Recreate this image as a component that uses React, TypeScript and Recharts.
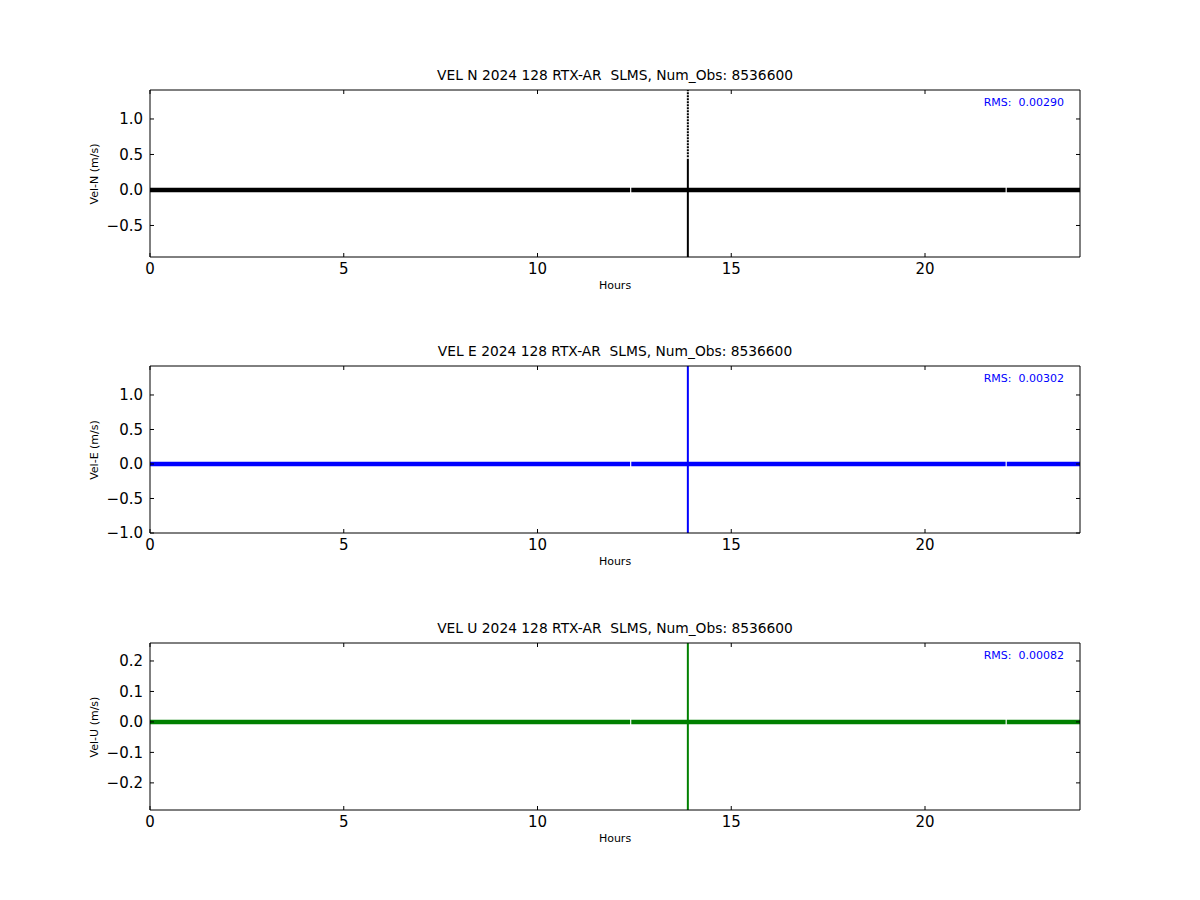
import React from 'react';
import { ComposedChart, Line, XAxis, YAxis } from 'recharts';

// ---- data ----
const hourTicks = [0, 5, 10, 15, 20];
const baseHours = [0, 12.39, 12.4, 12.42, 22.08, 22.09, 22.11, 24];
const velNBase = [0.0, 0.0, null, 0.0, 0.0, null, 0.0, 0.0];
const velEBase = [0.0, 0.0, null, 0.0, 0.0, null, 0.0, 0.0];
const velUBase = [0.0, 0.0, null, 0.0, 0.0, null, 0.0, 0.0];
const spikeHour = 13.88;
const velNSpikeSolid = [-0.95, 0.44];
const velNSpikeDotted = [0.46, 1.41];
const velESpike = [-1.0, 1.42];
const velUSpike = [-0.29, 0.26];
const velNTicks = [-0.5, 0.0, 0.5, 1.0];
const velETicks = [-1.0, -0.5, 0.0, 0.5, 1.0];
const velUTicks = [-0.2, -0.1, 0.0, 0.1, 0.2];
const velNDomain = [-0.944, 1.408];
const velEDomain = [-1.0, 1.42];
const velUDomain = [-0.289, 0.259];
const titles = [
  'VEL N 2024 128 RTX-AR  SLMS, Num_Obs: 8536600',
  'VEL E 2024 128 RTX-AR  SLMS, Num_Obs: 8536600',
  'VEL U 2024 128 RTX-AR  SLMS, Num_Obs: 8536600',
];
const yLabels = ['Vel-N (m/s)', 'Vel-E (m/s)', 'Vel-U (m/s)'];
const rmsLabels = ['RMS:  0.00290', 'RMS:  0.00302', 'RMS:  0.00082'];

const FONT = '"DejaVu Sans", sans-serif';
const PLOT_LEFT = 150;
const PLOT_RIGHT = 1080;
const PLOT_H = 167;
const M_TOP = 60;
const M_BOTTOM = 50;
const AX_W = 40;
const AX_H = 30;
const plotTops = [90, 366, 643];

const fmt = (v: number) => v.toFixed(1).replace('-', '\u2212');

const BottomTick = (p: any) => (
  <g>
    <line x1={p.x} x2={p.x} y1={p.y} y2={p.y - 4} stroke="#000" />
    <text x={p.x} y={p.y + 17} textAnchor="middle" fontSize={15} fontFamily={FONT} fill="#000">
      {p.payload.value}
    </text>
  </g>
);
const TopTick = (p: any) => <line x1={p.x} x2={p.x} y1={p.y} y2={p.y + 4} stroke="#000" />;
const LeftTick = (p: any) => (
  <g>
    <line x1={p.x} x2={p.x + 4} y1={p.y} y2={p.y} stroke="#000" />
    <text x={p.x - 7} y={p.y} dy="0.36em" textAnchor="end" fontSize={15} fontFamily={FONT} fill="#000">
      {fmt(p.payload.value)}
    </text>
  </g>
);
const RightTick = (p: any) => <line x1={p.x} x2={p.x - 4} y1={p.y} y2={p.y} stroke="#000" />;

const toRows = (hours: number[], vals: (number | null)[]) => hours.map((h, i) => ({ h, v: vals[i] }));
const spikeRows = (vals: number[]) => vals.map((v) => ({ h: spikeHour, v }));

type Panel = {
  color: string;
  base: (number | null)[];
  spikes: { vals: number[]; dash?: string }[];
  ticks: number[];
  domain: number[];
};

const panels: Panel[] = [
  { color: '#000000', base: velNBase, spikes: [{ vals: velNSpikeSolid }, { vals: velNSpikeDotted, dash: '2 1' }], ticks: velNTicks, domain: velNDomain },
  { color: '#0000ff', base: velEBase, spikes: [{ vals: velESpike }], ticks: velETicks, domain: velEDomain },
  { color: '#008000', base: velUBase, spikes: [{ vals: velUSpike }], ticks: velUTicks, domain: velUDomain },
];

const axisLine = { stroke: '#000', strokeWidth: 1 };

export default function App() {
  return (
    <div style={{ position: 'absolute', left: 0, top: 0, width: 1200, height: 900, background: '#fff', fontFamily: FONT }}>
      {panels.map((p, i) => {
        const top = plotTops[i] - M_TOP;
        const mid = plotTops[i] + PLOT_H / 2;
        return (
          <React.Fragment key={i}>
            <div style={{ position: 'absolute', left: 0, top }}>
              <ComposedChart
                width={1200}
                height={M_TOP + PLOT_H + M_BOTTOM}
                margin={{ top: M_TOP - AX_H, bottom: M_BOTTOM - AX_H, left: PLOT_LEFT - AX_W, right: 1200 - PLOT_RIGHT - AX_W }}
              >
                <XAxis dataKey="h" type="number" domain={[0, 24]} ticks={hourTicks} interval={0} height={AX_H}
                  tickSize={0} tickMargin={0} tick={<BottomTick />} axisLine={axisLine} tickLine={false} allowDataOverflow />
                <XAxis xAxisId="top" orientation="top" dataKey="h" type="number" domain={[0, 24]} ticks={hourTicks} interval={0} height={AX_H}
                  tickSize={0} tickMargin={0} tick={<TopTick />} axisLine={axisLine} tickLine={false} allowDataOverflow />
                <YAxis type="number" domain={p.domain} ticks={p.ticks} interval={0} width={AX_W}
                  tickSize={0} tickMargin={0} tick={<LeftTick />} axisLine={axisLine} tickLine={false} allowDataOverflow />
                <YAxis yAxisId="right" orientation="right" type="number" domain={p.domain} ticks={p.ticks} interval={0} width={AX_W}
                  tickSize={0} tickMargin={0} tick={<RightTick />} axisLine={axisLine} tickLine={false} allowDataOverflow />
                <Line data={toRows(baseHours, p.base)} dataKey="v" stroke={p.color} strokeWidth={4.5} dot={false}
                  isAnimationActive={false} connectNulls={false} />
                {p.spikes.map((s, j) => (
                  <Line key={j} data={spikeRows(s.vals)} dataKey="v" stroke={p.color} strokeWidth={2} dot={false}
                    strokeDasharray={s.dash} isAnimationActive={false} />
                ))}
              </ComposedChart>
            </div>
            <div style={{ position: 'absolute', left: (PLOT_LEFT + PLOT_RIGHT) / 2, top: plotTops[i] - 15, transform: 'translate(-50%, -50%)', fontSize: 13.8, whiteSpace: 'pre', color: '#000' }}>
              {titles[i]}
            </div>
            <div style={{ position: 'absolute', left: (PLOT_LEFT + PLOT_RIGHT) / 2, top: plotTops[i] + PLOT_H + 28, transform: 'translate(-50%, -50%)', fontSize: 11, whiteSpace: 'pre', color: '#000' }}>
              Hours
            </div>
            <div style={{ position: 'absolute', left: 94, top: mid, transform: 'translate(-50%, -50%) rotate(-90deg)', fontSize: 11, whiteSpace: 'pre', color: '#000' }}>
              {yLabels[i]}
            </div>
            <div style={{ position: 'absolute', right: 1200 - 1064, top: plotTops[i] + 12, transform: 'translateY(-50%)', fontSize: 11, whiteSpace: 'pre', color: '#0000ff' }}>
              {rmsLabels[i]}
            </div>
          </React.Fragment>
        );
      })}
    </div>
  );
}
